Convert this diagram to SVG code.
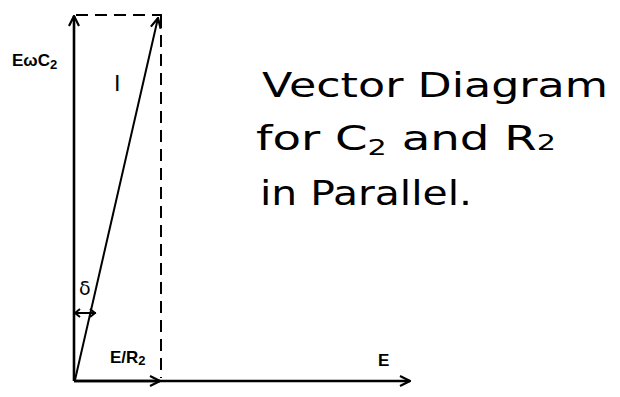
<svg xmlns="http://www.w3.org/2000/svg" width="620" height="397" viewBox="0 0 620 397">
<defs>
<marker id="ah" viewBox="0 0 12 12" refX="11" refY="6" markerWidth="12" markerHeight="12" markerUnits="userSpaceOnUse" orient="auto">
<path d="M1,1 L11,6 L1,11" fill="none" stroke="#000" stroke-width="2.2"/>
</marker>
</defs>
<style>
.ln{stroke:#000;stroke-width:2.6;fill:none}
.thin{stroke:#000;stroke-width:2;fill:none}
.dash{stroke:#000;stroke-width:2;fill:none;stroke-dasharray:12,7}
.hw{font-family:"DejaVu Sans","Liberation Sans",sans-serif;fill:#000}
.lb{font-family:"Liberation Sans",sans-serif;font-weight:bold;fill:#000}
</style>
<rect width="620" height="397" fill="#fff"/>
<g id="connectors">
<line class="ln" x1="74" y1="381" x2="74" y2="16" marker-end="url(#ah)"/>
<line class="ln" x1="74" y1="381" x2="410" y2="381" marker-end="url(#ah)"/>
<line class="ln" x1="74" y1="381" x2="160" y2="381" marker-end="url(#ah)"/>
<line class="thin" x1="75" y1="380" x2="158" y2="18" marker-end="url(#ah)"/>
<line class="dash" x1="76" y1="15" x2="162" y2="15"/>
<line class="dash" x1="161" y1="16" x2="161" y2="378"/>
<path class="thin" d="M74,313 L96,313 M80,309 L75,313 L80,317 M90,309 L95,313 L90,317"/>
</g>
<g id="label-EwC2"><text class="lb" x="12" y="66" font-size="17">EωC<tspan font-size="13" dy="3">2</tspan></text></g>
<g id="label-I"><text class="hw" x="114" y="91" font-size="22" font-family="Liberation Serif">I</text></g>
<g id="label-delta"><text class="hw" x="79" y="295" font-size="19">δ</text></g>
<g id="label-ER2"><text class="lb" x="110" y="363" font-size="17">E/R<tspan font-size="13" dy="2">2</tspan></text></g>
<g id="label-E"><text class="lb" x="378" y="366" font-size="17">E</text></g>
<g id="title">
<text class="hw" x="262" y="97" font-size="34" textLength="346" lengthAdjust="spacingAndGlyphs">Vector Diagram</text>
<text class="hw" x="256" y="150" font-size="34" textLength="300" lengthAdjust="spacingAndGlyphs">for C<tspan font-size="22" dy="5">2</tspan><tspan dy="-5"> and R</tspan><tspan font-size="22">2</tspan></text>
<text class="hw" x="260" y="205" font-size="34" textLength="212" lengthAdjust="spacingAndGlyphs">in Parallel.</text>
</g>
</svg>
